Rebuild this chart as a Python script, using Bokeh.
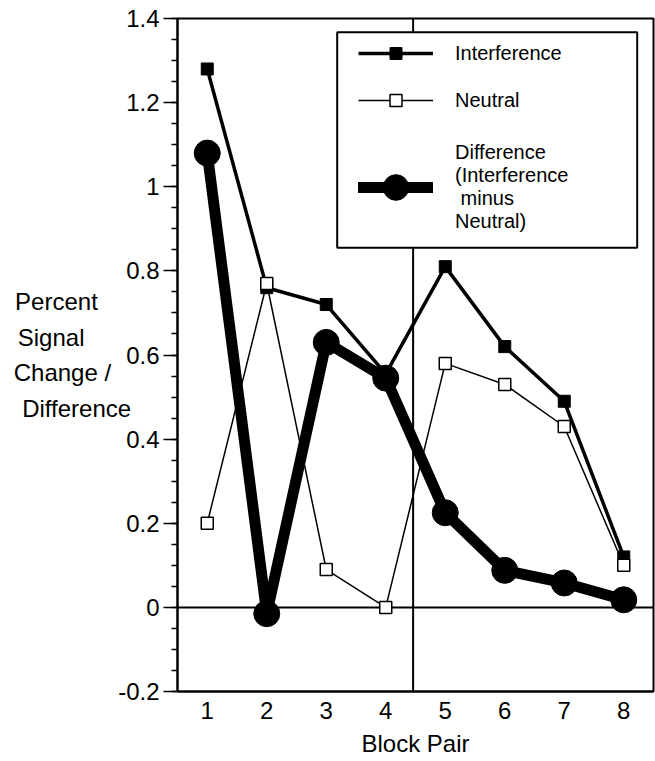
from bokeh.plotting import figure
from bokeh.models import (ColumnDataSource, Span, Legend, LegendItem,
                          FixedTicker, CustomJSTickFormatter, BoxAnnotation, Range1d)
from bokeh.embed import file_html
from bokeh.resources import INLINE

# ---- data ----
block_pair = [1, 2, 3, 4, 5, 6, 7, 8]
interference = [1.28, 0.76, 0.72, 0.555, 0.81, 0.62, 0.49, 0.12]
neutral = [0.20, 0.77, 0.09, 0.00, 0.58, 0.53, 0.43, 0.10]
difference = [1.08, -0.015, 0.63, 0.545, 0.225, 0.088, 0.058, 0.018]

x_ticks = [1, 2, 3, 4, 5, 6, 7, 8]
y_ticks = [-0.2, 0, 0.2, 0.4, 0.6, 0.8, 1, 1.2, 1.4]
y_minor = [-0.2, -0.15, -0.1, -0.05, 0, 0.05, 0.1, 0.15, 0.2, 0.25, 0.3, 0.35,
           0.4, 0.45, 0.5, 0.55, 0.6, 0.65, 0.7, 0.75, 0.8, 0.85, 0.9, 0.95,
           1.0, 1.05, 1.1, 1.15, 1.2, 1.25, 1.3, 1.35, 1.4]
# axis title lines; Bokeh right-aligns a horizontal left-axis title, so the
# lines are padded with no-break spaces to keep them left-aligned as in the figure
NB = "\u00a0"
y_title_lines = ["Percent" + NB * 5, "Signal" + NB * 7, "Change /" + NB * 3, "Difference"]
legend_labels = ["Interference", "Neutral",
                 "Difference\n(Interference\n minus\nNeutral)"]
x_title = "Block Pair"
block_split = 4.46

FONT = "Liberation Sans"

src = ColumnDataSource(dict(x=block_pair, inter=interference,
                            neu=neutral, diff=difference))

p = figure(width=655, height=761, output_backend="svg", toolbar_location=None,
           x_range=Range1d(0.5, 8.5), y_range=Range1d(-0.2, 1.4),
           min_border_left=177, min_border_right=2, min_border_top=18,
           min_border_bottom=70)
p.grid.visible = False
p.outline_line_color = "black"
p.outline_line_width = 2
p.background_fill_color = "white"

# reference lines
p.add_layout(Span(location=0, dimension="width", line_color="black",
                  line_width=2, level="underlay"))
p.add_layout(Span(location=block_split, dimension="height", line_color="black",
                  line_width=2, level="underlay"))

# series
r_il = p.line("x", "inter", source=src, line_color="black", line_width=3.5)
r_ip = p.scatter("x", "inter", source=src, marker="square", size=12,
                 fill_color="black", line_color="black")
r_nl = p.line("x", "neu", source=src, line_color="black", line_width=1.5)
r_np = p.scatter("x", "neu", source=src, marker="square", size=12,
                 fill_color="white", line_color="black", line_width=1.5)
r_dl = p.line("x", "diff", source=src, line_color="black", line_width=11,
              line_join="round", line_cap="round")
r_dp = p.scatter("x", "diff", source=src, marker="circle", size=26,
                 fill_color="black", line_color="black")

# axes
xa = p.xaxis[0]
xa.ticker = FixedTicker(ticks=x_ticks)
xa.major_tick_out = 0
xa.major_tick_in = 0
xa.minor_tick_out = 0
xa.minor_tick_in = 0
xa.axis_line_width = 2
xa.major_label_text_font = FONT
xa.major_label_text_font_size = "24px"
xa.major_label_text_color = "black"
xa.major_label_standoff = 10
xa.axis_label = x_title
xa.axis_label_text_font = FONT
xa.axis_label_text_font_size = "24px"
xa.axis_label_text_font_style = "normal"
xa.axis_label_text_color = "black"
xa.axis_label_standoff = 8

ya = p.yaxis[0]
ya.ticker = FixedTicker(ticks=y_ticks, minor_ticks=y_minor)
ya.formatter = CustomJSTickFormatter(code="return String(Math.round(tick*10)/10);")
ya.major_tick_out = 14
ya.major_tick_in = 0
ya.minor_tick_out = 6
ya.minor_tick_in = 0
ya.major_tick_line_width = 1.5
ya.minor_tick_line_width = 1.5
ya.axis_line_width = 2
ya.major_label_text_font = FONT
ya.major_label_text_font_size = "24px"
ya.major_label_text_color = "black"
ya.major_label_standoff = 4
ya.axis_label = "\n".join(y_title_lines)
ya.axis_label_orientation = "horizontal"
ya.axis_label_text_align = "left"
ya.axis_label_text_font = FONT
ya.axis_label_text_font_size = "24px"
ya.axis_label_text_font_style = "normal"
ya.axis_label_text_color = "black"
ya.axis_label_text_line_height = 1.32
ya.axis_label_standoff = -16

# legend frame
p.add_layout(BoxAnnotation(left=3.184, right=8.226, top=1.3675, bottom=0.855,
                           fill_color="white", fill_alpha=1.0,
                           line_color="black", line_width=2, line_alpha=1.0))

common = dict(padding=0, glyph_width=75, label_standoff=22,
              label_text_font=FONT, label_text_font_size="20px",
              label_text_color="black",
              border_line_alpha=0, background_fill_alpha=0)
legend1 = Legend(items=[
    LegendItem(label=legend_labels[0], renderers=[r_il, r_ip]),
    LegendItem(label=legend_labels[1], renderers=[r_nl, r_np]),
], location=(181, 576), spacing=17, glyph_height=30,
    label_text_line_height=1.3, **common)
legend2 = Legend(items=[
    LegendItem(label=legend_labels[2], renderers=[r_dl, r_dp]),
], location=(181, 458), spacing=0, glyph_height=64,
    label_text_line_height=1.38, **common)
p.add_layout(legend1)
p.add_layout(legend2)

open("out.html", "w").write(file_html(p, INLINE))
